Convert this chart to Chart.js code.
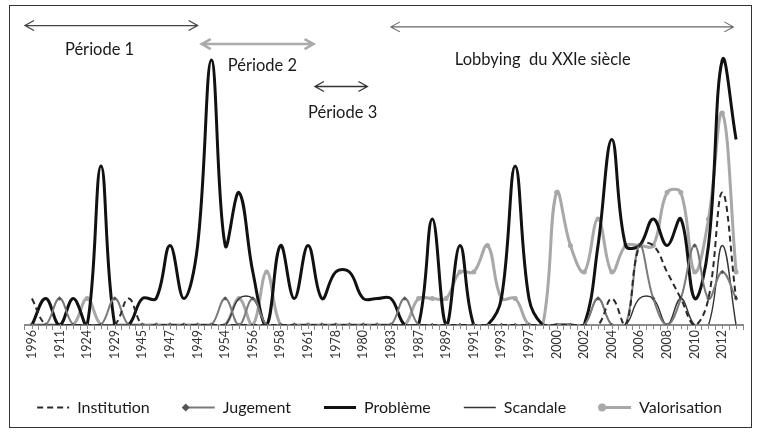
<!DOCTYPE html>
<html>
<head>
<meta charset="utf-8">
<script src="https://cdn.jsdelivr.net/npm/chart.js@4.4.1/dist/chart.umd.min.js"></script>
<style>
  html, body { margin: 0; padding: 0; background: #fff; }
  #wrap { position: relative; width: 759px; height: 432px; }
  #frame { position: absolute; left: 9px; top: 5px; width: 741px; height: 421px; border: 1.5px solid #333; }
  canvas { position: absolute; left: 0; top: 0; }
</style>
</head>
<body>
<div id="wrap">
  <div id="frame"></div>
  <canvas id="lobbyChart" width="759" height="432"></canvas>
</div>
<script>
// one year label every two categories (as printed on the axis)
const yearLabels = ["1996", "1911", "1924", "1929", "1945", "1947", "1949", "1954", "1956", "1958", "1961", "1978", "1980",
  "1983", "1987", "1989", "1991", "1993", "1997", "2000", "2002", "2004", "2006", "2008", "2010", "2012"]
const categories = yearLabels.flatMap((y) => [y, ""])

const institution = [1, 0, 0, 0, 0, 0, 0, 1, 0, 0, 0, 0, 0, 0, 0, 0, 0, 0, 0, 0, 0, 0, 0, 0, 0, 0,
  0, 0, 0, 0, 0, 0, 0, 0, 0, 0, 0, 0, 0, 0, 0, 0, 1, 0, 3, 3, 2, 1, 0, 1, 5, 1]
const jugement = [0, 0, 1, 0, 0, 0, 1, 0, 0, 0, 0, 0, 0, 0, 1, 0, 1, 0, 0, 0, 0, 0, 0, 0, 0, 0,
  0, 1, 0, 0, 0, 0, 0, 0, 0, 0, 0, 0, 0, 0, 0, 1, 0, 0, 3, 1, 0, 1, 3, 1, 2, 1]
const probleme = [0, 1, 0, 1, 0, 6, 0, 0, 1, 1, 3, 1, 3, 10, 3, 5, 2, 0, 3, 1, 3, 1, 2, 2, 1, 1,
  1, 0, 0, 4, 0, 3, 0, 0, 1, 6, 1, 0, 0, 0, 0, 3, 7, 3, 3, 4, 3, 4, 1, 3, 10, 7]
const scandale = [0, 0, 0, 0, 0, 0, 0, 0, 0, 0, 0, 0, 0, 0, 0, 1, 1, 0, 0, 0, 0, 0, 0, 0, 0, 0,
  0, 0, 0, 0, 0, 0, 0, 0, 0, 0, 0, 0, 0, 0, 0, 1, 0, 0, 1, 1, 0, 1, 0, 0, 3, 0]
const valorisation = [0, 0, 0, 0, 1, 0, 0, 0, 0, 0, 0, 0, 0, 0, 0, 1, 0, 2, 0, 0, 0, 0, 0, 0, 0, 0,
  0, 0, 1, 1, 1, 2, 2, 3, 1, 1, 0, 0, 5, 3, 2, 4, 2, 3, 3, 3, 5, 5, 2, 4, 8, 2]

// period arrows: start / end category position, height in value units
const periods = [
  { label: "Période 1", from: -0.5, to: 12.0, arrowY: 11.3, textX: 4.9, textY: 10.4, color: "#444", width: 1.3 },
  { label: "Période 2", from: 12.3, to: 20.4, arrowY: 10.6, textX: 16.7, textY: 9.8, color: "#aaa", width: 2.5 },
  { label: "Période 3", from: 20.5, to: 24.3, arrowY: 9.0, textX: 22.5, textY: 8.0, color: "#333", width: 1.3 },
  { label: "Lobbying  du XXIe siècle", from: 26.0, to: 50.8, arrowY: 11.25, textX: 37.0, textY: 10.0, color: "#666", width: 1.1 },
]

const FONT = "Lato, 'Open Sans', sans-serif"

const centerTicks = {
  id: "centerTicks",
  afterDatasetsDraw(chart) {
    const x = chart.scales.x
    const ctx = chart.ctx
    ctx.save()
    ctx.strokeStyle = "#888"
    ctx.lineWidth = 1
    for (let i = 0; i < categories.length; i++) {
      const px = Math.round(x.getPixelForValue(i)) + 0.5
      ctx.beginPath()
      ctx.moveTo(px, x.top - 1)
      ctx.lineTo(px, x.top + 4)
      ctx.stroke()
    }
    ctx.restore()
  },
}

const periodArrows = {
  id: "periodArrows",
  afterDraw(chart) {
    const x = chart.scales.x
    const y = chart.scales.y
    const ctx = chart.ctx
    ctx.save()
    periods.forEach((p) => {
      const x1 = x.getPixelForValue(p.from)
      const x2 = x.getPixelForValue(p.to)
      const py = y.getPixelForValue(p.arrowY)
      ctx.strokeStyle = p.color
      ctx.lineWidth = p.width
      ctx.beginPath()
      ctx.moveTo(x1, py)
      ctx.lineTo(x2, py)
      ctx.moveTo(x1 + 9, py - 5)
      ctx.lineTo(x1, py)
      ctx.lineTo(x1 + 9, py + 5)
      ctx.moveTo(x2 - 9, py - 5)
      ctx.lineTo(x2, py)
      ctx.lineTo(x2 - 9, py + 5)
      ctx.stroke()
      ctx.fillStyle = "#1a1a1a"
      ctx.font = "16.5px " + FONT
      ctx.textAlign = "center"
      ctx.textBaseline = "middle"
      ctx.fillText(p.label, x.getPixelForValue(p.textX), y.getPixelForValue(p.textY))
    })
    ctx.restore()
  },
}

const legendMarkers = {
  id: "legendMarkers",
  afterDraw(chart) {
    const boxes = chart.legend.legendHitBoxes
    const ctx = chart.ctx
    ctx.save()
    chart.data.datasets.forEach((ds, i) => {
      if (!ds.legendMarker) return
      const b = boxes[i]
      const cx = b.left + 3
      const cy = b.top + b.height / 2
      ctx.fillStyle = ds.pointBackgroundColor
      ctx.beginPath()
      if (ds.legendMarker === "diamond") {
        ctx.moveTo(cx, cy - 4)
        ctx.lineTo(cx + 4, cy)
        ctx.lineTo(cx, cy + 4)
        ctx.lineTo(cx - 4, cy)
      } else {
        ctx.arc(cx, cy, 4, 0, Math.PI * 2)
      }
      ctx.fill()
    })
    ctx.restore()
  },
}

const ctx = document.getElementById("lobbyChart").getContext("2d")

new Chart(ctx, {
  type: "line",
  data: {
    labels: categories,
    datasets: [
      {
        label: "Institution",
        data: institution,
        borderColor: "#2a2a2a",
        borderWidth: 2,
        borderDash: [6, 4],
        pointRadius: 0,
      },
      {
        label: "Jugement",
        data: jugement,
        borderColor: "#7a7a7a",
        borderWidth: 2,
        pointStyle: "rectRot",
        pointRadius: 2.2,
        pointBackgroundColor: "#555",
        pointBorderWidth: 0,
        legendMarker: "diamond",
      },
      {
        label: "Problème",
        data: probleme,
        borderColor: "#111",
        borderWidth: 3,
        pointRadius: 0,
      },
      {
        label: "Scandale",
        data: scandale,
        borderColor: "#333",
        borderWidth: 1.4,
        pointRadius: 0,
      },
      {
        label: "Valorisation",
        data: valorisation,
        borderColor: "#a8a8a8",
        borderWidth: 3,
        pointStyle: "circle",
        pointRadius: 2.5,
        pointBackgroundColor: "#a8a8a8",
        pointBorderWidth: 0,
        legendMarker: "circle",
      },
    ],
  },
  options: {
    responsive: false,
    animation: false,
    devicePixelRatio: 1,
    elements: {
      line: { tension: 0.4, capBezierPoints: false, fill: false },
    },
    layout: { padding: { left: 0, right: 0, top: 7, bottom: 6.5 } },
    scales: {
      x: {
        offset: true,
        grid: { offset: true, drawOnChartArea: false, tickLength: 5, color: "#888" },
        border: { color: "#8a8a8a", width: 2 },
        ticks: {
          autoSkip: false,
          minRotation: 90,
          maxRotation: 90,
          padding: 0,
          color: "#333",
          font: { family: FONT, size: 12.5 },
        },
        afterFit: (s) => { s.height = 41.5 },
      },
      y: {
        min: 0,
        max: 12,
        ticks: { display: false },
        grid: { display: false },
        border: { display: false },
        afterFit: (s) => { s.width = 25 },
      },
      yRight: {
        position: "right",
        min: 0,
        max: 12,
        ticks: { display: false },
        grid: { display: false },
        border: { display: false },
        afterFit: (s) => { s.width = 16 },
      },
    },
    plugins: {
      tooltip: { enabled: false },
      legend: {
        position: "bottom",
        labels: {
          usePointStyle: true,
          pointStyleWidth: 32,
          padding: 33,
          color: "#1a1a1a",
          font: { family: FONT, size: 16 },
          generateLabels: (chart) =>
            chart.data.datasets.map((ds, i) => ({
              text: ds.label,
              datasetIndex: i,
              strokeStyle: ds.borderColor,
              fillStyle: ds.borderColor,
              lineWidth: ds.borderWidth,
              lineDash: ds.borderDash || [],
              pointStyle: "line",
              fontColor: "#1a1a1a",
            })),
        },
      },
    },
  },
  plugins: [centerTicks, periodArrows, legendMarkers],
})
</script>
</body>
</html>
